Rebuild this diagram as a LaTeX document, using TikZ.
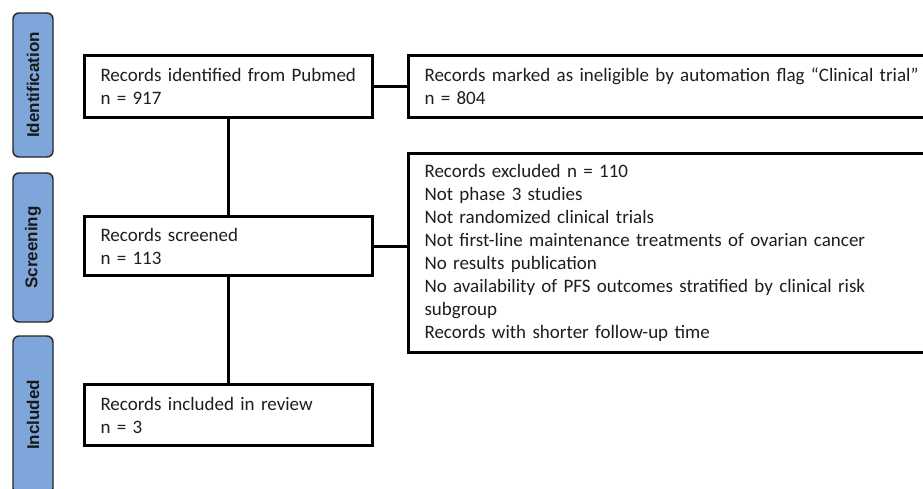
\documentclass[tikz,border=0pt]{standalone}
\usepackage{fontspec}
\setmainfont{Carlito}
\newfontfamily\stagefont{Liberation Sans}
\definecolor{stageblue}{RGB}{126,166,219}
\definecolor{txtgray}{RGB}{30,30,30}
\tikzset{
  stagebox/.style={draw=black!85, line width=1.4pt, fill=stageblue, rounded corners=6pt,
    rotate=90, minimum height=40pt, inner sep=0pt,
    font=\stagefont\bfseries\fontsize{17}{20}\selectfont, text=black!90},
  flowbox/.style={draw=black, line width=3pt, fill=white, anchor=north west, align=left,
    inner xsep=16pt, inner ysep=0pt, text=txtgray,
    font=\fontsize{19}{23}\selectfont},
  link/.style={line width=3pt, draw=black}
}
\begin{document}
\begin{tikzpicture}[x=1pt,y=-1pt]
\useasboundingbox (0,0) rectangle (923,488);
\clip (0,0) rectangle (923,488);
\fill[white] (0,0) rectangle (923,488);
% stage labels
\node[stagebox, minimum width=144pt] (sid) at (33,85) {Identification};
\node[stagebox, minimum width=149pt] (ssc) at (33,247.5) {Screening};
\node[stagebox, minimum width=158pt] (sin) at (33,415) {Included};
% main boxes
\node[flowbox, minimum width=288pt, minimum height=62pt, text width=256pt] (b1) at (83,54)
  {Records identified from Pubmed\\n = 917};
\node[flowbox, minimum width=288pt, minimum height=59pt, text width=256pt] (b2) at (83,215)
  {Records screened\\n = 113};
\node[flowbox, minimum width=288pt, minimum height=61pt, text width=256pt] (b3) at (83,383)
  {Records included in review\\n = 3};
% right boxes
\node[flowbox, minimum width=540pt, minimum height=62pt, text width=508pt, inner xsep=15pt] (r1) at (407,54)
  {Records marked as ineligible by automation flag “Clinical trial”\\n = 804};
\node[flowbox, minimum width=540pt, minimum height=199pt, text width=508pt, inner xsep=15pt] (r2) at (407,152)
  {Records excluded n = 110\\
   Not phase 3 studies\\
   Not randomized clinical trials\\
   Not first-line maintenance treatments of ovarian cancer\\
   No results publication\\
   No availability of PFS outcomes stratified by clinical risk\\
   subgroup\\
   Records with shorter follow-up time};
% connectors
\draw[link] (b1.south) -- (b2.north);
\draw[link] (b2.south) -- (b3.north);
\draw[link] (b1.east) -- (r1.west |- b1.east);
\draw[link] (b2.east) -- (r2.west |- b2.east);
\end{tikzpicture}
\end{document}
